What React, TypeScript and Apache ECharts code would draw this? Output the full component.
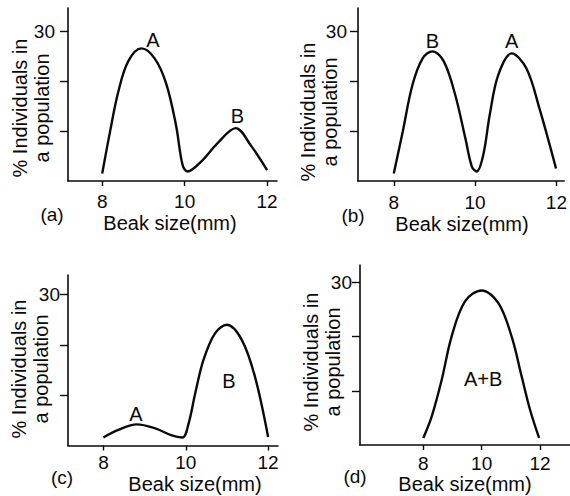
import React, { useEffect, useRef } from "react";
import * as echarts from "echarts";

const xTickValues = [8, 10, 12];
const yTickValues = [10, 20, 30];
const yLabelValues = [30];

const curveA: number[][] = [[8, 1.5], [8.19, 9.9], [8.39, 17.9], [8.63, 24.0], [8.95, 26.6], [9.27, 24.6], [9.55, 19.6], [9.79, 11.2], [9.95, 3.2], [10.07, 1.9], [10.4, 3.9], [10.8, 7.6], [11.24, 10.6], [11.6, 7.2], [12, 2.2]];
const curveB: number[][] = [[8, 1.5], [8.22, 9.9], [8.46, 19.3], [8.71, 24.6], [8.95, 26.0], [9.23, 24.0], [9.51, 17.3], [9.76, 8.6], [9.92, 2.9], [10.04, 1.9], [10.2, 5.2], [10.36, 13.3], [10.57, 21.3], [10.9, 25.6], [11.26, 22.6], [11.58, 14.6], [11.99, 2.5]];
const curveC: number[][] = [[8, 1.6], [8.36, 3.1], [8.81, 4.2], [9.26, 3.4], [9.66, 2.0], [9.92, 1.6], [10.07, 4.4], [10.23, 10.4], [10.43, 17.0], [10.71, 22.3], [11.0, 24.0], [11.36, 21.0], [11.68, 13.7], [12, 1.7]];
const curveD: number[][] = [[8, 1.3], [8.29, 5.3], [8.63, 12.0], [8.97, 20.0], [9.43, 26.5], [10.0, 28.5], [10.57, 26.2], [11.03, 20.0], [11.37, 12.7], [11.66, 6.5], [11.97, 1.3]];

const peakLabelsA = [{ name: "A", at: [9.23, 28.2] }, { name: "B", at: [11.28, 12.95] }];
const peakLabelsB = [{ name: "B", at: [8.95, 28.0] }, { name: "A", at: [10.9, 28.0] }];
const peakLabelsC = [{ name: "A", at: [8.79, 6.3] }, { name: "B", at: [11.05, 12.9] }];
const peakLabelsD = [{ name: "A+B", at: [10.05, 12.2] }];

const panelTags = ["(a)", "(b)", "(c)", "(d)"];
const xTitle = "Beak size(mm)";
const yTitle = "% Individuals in\na population";

const FONT = "'Liberation Sans', Arial, Helvetica, sans-serif";
const INK = "#0a0a0a";

export default function App() {
  const ref = useRef<HTMLDivElement>(null);
  useEffect(() => {
    if (!ref.current) return;
    const chart = echarts.init(ref.current, undefined, { renderer: "svg" });

    const grids = [
      { left: 68, top: 8, width: 209, height: 173 },
      { left: 358, top: 8, width: 209, height: 173 },
      { left: 68, top: 275, width: 210, height: 170.5 },
      { left: 360, top: 265, width: 210, height: 180 },
    ];
    const xRanges = [[7.17, 12.24], [7.12, 12.19], [7.14, 12.24], [5.83, 13.03]];
    const yMaxes = [34.7, 34.7, 33.9, 33.2];
    const yLabelMargins = [13, 11, 8, 8];
    const xLabelMargins = [11, 12, 7, 9];
    const curves = [curveA, curveB, curveC, curveD];
    const peaks = [peakLabelsA, peakLabelsB, peakLabelsC, peakLabelsD];

    const xAxis = grids.map((_, i) => ({
      type: "value",
      gridIndex: i,
      min: xRanges[i][0],
      max: xRanges[i][1],
      axisLine: { show: true, onZero: false, lineStyle: { color: INK, width: 1.6 } },
      axisTick: { show: true, inside: false, length: 5, customValues: xTickValues, lineStyle: { color: INK, width: 1.4 } },
      axisLabel: { show: true, customValues: xTickValues, margin: xLabelMargins[i], fontSize: 19, color: INK, fontFamily: FONT },
      splitLine: { show: false },
    }));
    const yAxis = grids.map((_, i) => ({
      type: "value",
      gridIndex: i,
      min: 0,
      max: yMaxes[i],
      axisLine: { show: true, onZero: false, lineStyle: { color: INK, width: 1.6 } },
      axisTick: { show: true, inside: false, length: 8, customValues: yTickValues, lineStyle: { color: INK, width: 1.4 } },
      axisLabel: { show: true, customValues: yLabelValues, margin: yLabelMargins[i], fontSize: 19, color: INK, fontFamily: FONT },
      splitLine: { show: false },
    }));
    const series = curves.map((data, i) => ({
      type: "line",
      xAxisIndex: i,
      yAxisIndex: i,
      data,
      smooth: 0.35,
      showSymbol: false,
      lineStyle: { color: INK, width: 2.4 },
      markPoint: {
        symbol: "circle",
        symbolSize: 0,
        data: peaks[i].map((p) => ({ coord: p.at, value: p.name })),
        label: { show: true, position: "inside", formatter: "{c}", fontSize: 20, color: INK, fontFamily: FONT },
      },
    }));

    const titleStyle = { fill: INK, fontSize: 20, fontFamily: FONT, align: "center", verticalAlign: "middle" };
    const yTitlePos = [[31, 108], [319, 112], [30, 369], [322, 362]];
    const xTitlePos = [[170, 223], [462, 224], [195, 484], [465, 484]];
    const tagPos = [[52, 214], [353, 215], [62, 477], [355, 476]];

    const graphic: any[] = [];
    for (let i = 0; i < 4; i++) {
      graphic.push({
        type: "text",
        x: yTitlePos[i][0],
        y: yTitlePos[i][1],
        rotation: Math.PI / 2,
        style: { ...titleStyle, text: yTitle, lineHeight: 22 },
      });
      graphic.push({ type: "text", x: xTitlePos[i][0], y: xTitlePos[i][1], style: { ...titleStyle, text: xTitle } });
      graphic.push({ type: "text", x: tagPos[i][0], y: tagPos[i][1], style: { ...titleStyle, text: panelTags[i], fontSize: 19 } });
    }

    chart.setOption({
      animation: false,
      backgroundColor: "#fff",
      grid: grids.map((g) => ({ ...g, containLabel: false })),
      xAxis,
      yAxis,
      series,
      graphic,
    });
    return () => chart.dispose();
  }, []);
  return <div ref={ref} style={{ position: "fixed", left: 0, top: 0, width: 570, height: 496 }} />;
}
